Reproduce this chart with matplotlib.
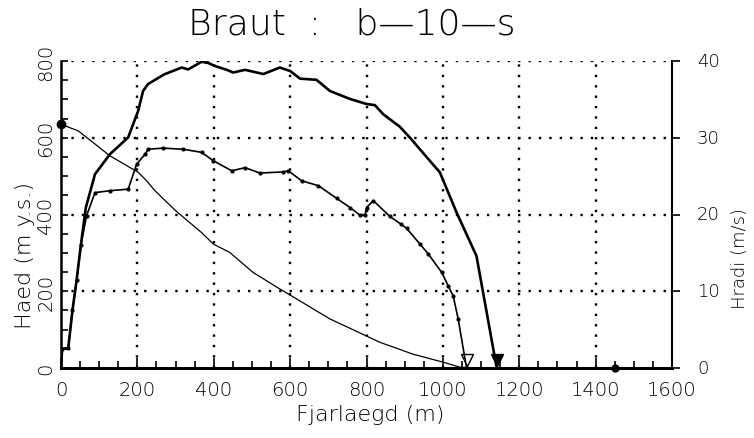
import numpy as np
import matplotlib
matplotlib.use("Agg")
import matplotlib.pyplot as plt
import matplotlib.transforms as mtransforms

# ---- data ----
title = "Braut  :   b\u201410\u2014s"
xlabel = "Fjarlaegd (m)"
ylabel_left = "Haed (m y.s.)"
ylabel_right = "Hradi (m/s)"

# height profile (m above sea level)
dist_h = [0, 45, 67, 128, 202, 224, 246, 300, 368, 399, 442, 503, 573, 595, 704,
          835, 922, 1001, 1045, 1100, 1450]
haed = [635, 618, 601, 553, 510, 488, 462, 410, 353, 323, 301, 249, 206, 193, 128,
        67, 36, 15, 2, 0, 0]

# speed curve 1 (thick), m/s
dist_v1 = [0, 3, 19, 30, 41, 52, 65, 89, 128, 176, 202, 215, 228, 270, 316, 333, 368,
           385, 403, 434, 451, 482, 530, 573, 600, 626, 669, 704, 757, 800, 822, 844,
           887, 914, 958, 992, 1036, 1088, 1141]
hradi1 = [0, 2.5, 2.6, 7.5, 11.5, 16, 20.9, 25.25, 27.85, 30.05, 33.5, 36.1, 37,
          38.25, 39.15, 38.9, 39.9, 39.75, 39.35, 38.85, 38.5, 38.85, 38.3, 39.15,
          38.7, 37.7, 37.55, 36.1, 35.05, 34.4, 34.25, 33.05, 31.45, 30, 27.45, 25.5,
          20.25, 14.6, 0]

# speed curve 2 (medium, with markers), m/s
dist_v2 = [0, 3, 19, 30, 41, 52, 67, 89, 128, 176, 198, 220, 228, 267, 320, 368, 399,
           447, 482, 521, 582, 595, 630, 674, 722, 757, 783, 796, 800, 818, 861, 890,
           905, 940, 962, 997, 1014, 1027, 1040, 1062]
hradi2 = [0, 2.5, 2.6, 7.5, 11.5, 16, 19.85, 22.85, 23.1, 23.3, 26.55, 27.85, 28.5,
          28.65, 28.5, 28.1, 27.0, 25.7, 26.1, 25.4, 25.55, 25.7, 24.4, 23.75, 22.1,
          20.9, 19.9, 19.9, 20.9, 21.8, 19.75, 18.75, 18.2, 16.15, 14.85, 12.45, 10.7,
          9.4, 6.4, 0]

xticks = [0, 200, 400, 600, 800, 1000, 1200, 1400, 1600]
yticks_left = [0, 200, 400, 600, 800]
yticks_right = [0, 10, 20, 30, 40]

# ---- figure ----
plt.rcParams['font.family'] = ['DejaVu Sans']
plt.rcParams['font.weight'] = 'light'
plt.rcParams['axes.labelweight'] = 'light'
fig = plt.figure(figsize=(7.54, 4.39), dpi=100)
ax = fig.add_axes([61/754, 1 - 369/439, (672-61)/754, (369-62)/439])
ax2 = ax.twinx()

ax.set_xlim(0, 1600)
ax.set_ylim(0, 800)
ax2.set_ylim(0, 40)

# grid (dotted)
for xv in xticks[1:-1]:
    ax.axvline(xv, color='black', lw=1.7, ls=(0, (1, 3.4)), zorder=1)
for yv in yticks_left[1:]:
    ax.axhline(yv, color='black', lw=1.7, ls=(0, (1, 3.4)), zorder=1)

# curves
ax.plot(dist_h, haed, color='black', lw=0.9, zorder=3)
ax.plot(dist_h[0], haed[0], 'o', color='black', ms=6, zorder=4, clip_on=False)
ax.plot(dist_h[-1], haed[-1], 'o', color='black', ms=5, zorder=4, clip_on=False)

ax2.plot(dist_v1, hradi1, color='black', lw=1.9, zorder=3)
ax2.plot(dist_v2, hradi2, color='black', lw=1.2, marker='o', ms=2.0, zorder=3)

up = mtransforms.offset_copy(ax2.transData, fig=fig, x=0, y=6, units='points')
ax2.plot(dist_v2[-1], hradi2[-1], marker='v', ms=8, mfc='white', mec='black',
         mew=1.0, transform=up, clip_on=False)
ax2.plot(dist_v1[-1], hradi1[-1], marker='v', ms=8, color='black',
         transform=up, clip_on=False)

# spines
ax.spines['top'].set_visible(False)
ax2.spines['top'].set_visible(False)
ax.spines['right'].set_visible(False)
ax.spines['bottom'].set_linewidth(2.2)
ax.spines['left'].set_linewidth(1.8)
ax2.spines['right'].set_linewidth(1.5)
ax2.spines['left'].set_visible(False)
ax2.spines['bottom'].set_visible(False)

# ticks
ax.set_xticks(xticks)
ax.set_xticks(np.arange(0, 1601, 50), minor=True)
ax.set_yticks(yticks_left)
ax.set_yticks(np.arange(0, 801, 50), minor=True)
ax.tick_params(axis='x', which='both', direction='in', length=5, width=1.2,
               labelsize=14, pad=9)
ax.tick_params(axis='y', which='both', direction='in', length=5, width=1.2,
               labelsize=14, pad=4)
ax.tick_params(axis='x', which='major', length=7)
for lab in ax.get_yticklabels():
    lab.set_rotation(90)
    lab.set_va('center')

ax2.set_yticks(yticks_right)
ax2.tick_params(axis='y', direction='out', length=6, width=1.2, labelsize=13, pad=12)
for lab in ax2.get_yticklabels():
    lab.set_va('center')

ax.set_xlabel(xlabel, fontsize=16, fontweight='light')
ax.xaxis.label.set_va('center')
ax.xaxis.set_label_coords(0.506, -0.15)
ax.set_ylabel(ylabel_left, fontsize=16, fontweight='light')
ax.yaxis.label.set_va('center')
ax.yaxis.set_label_coords(-0.059, 0.37)
ax2.set_ylabel(ylabel_right, fontsize=13, fontweight='light')
ax2.yaxis.label.set_va('center')
ax2.yaxis.set_label_coords(1.111, 0.36)
fig.text(0.466, 0.945, title, ha='center', va='center', fontsize=26,
         fontweight='light')

fig.savefig("out.png", dpi=100)
